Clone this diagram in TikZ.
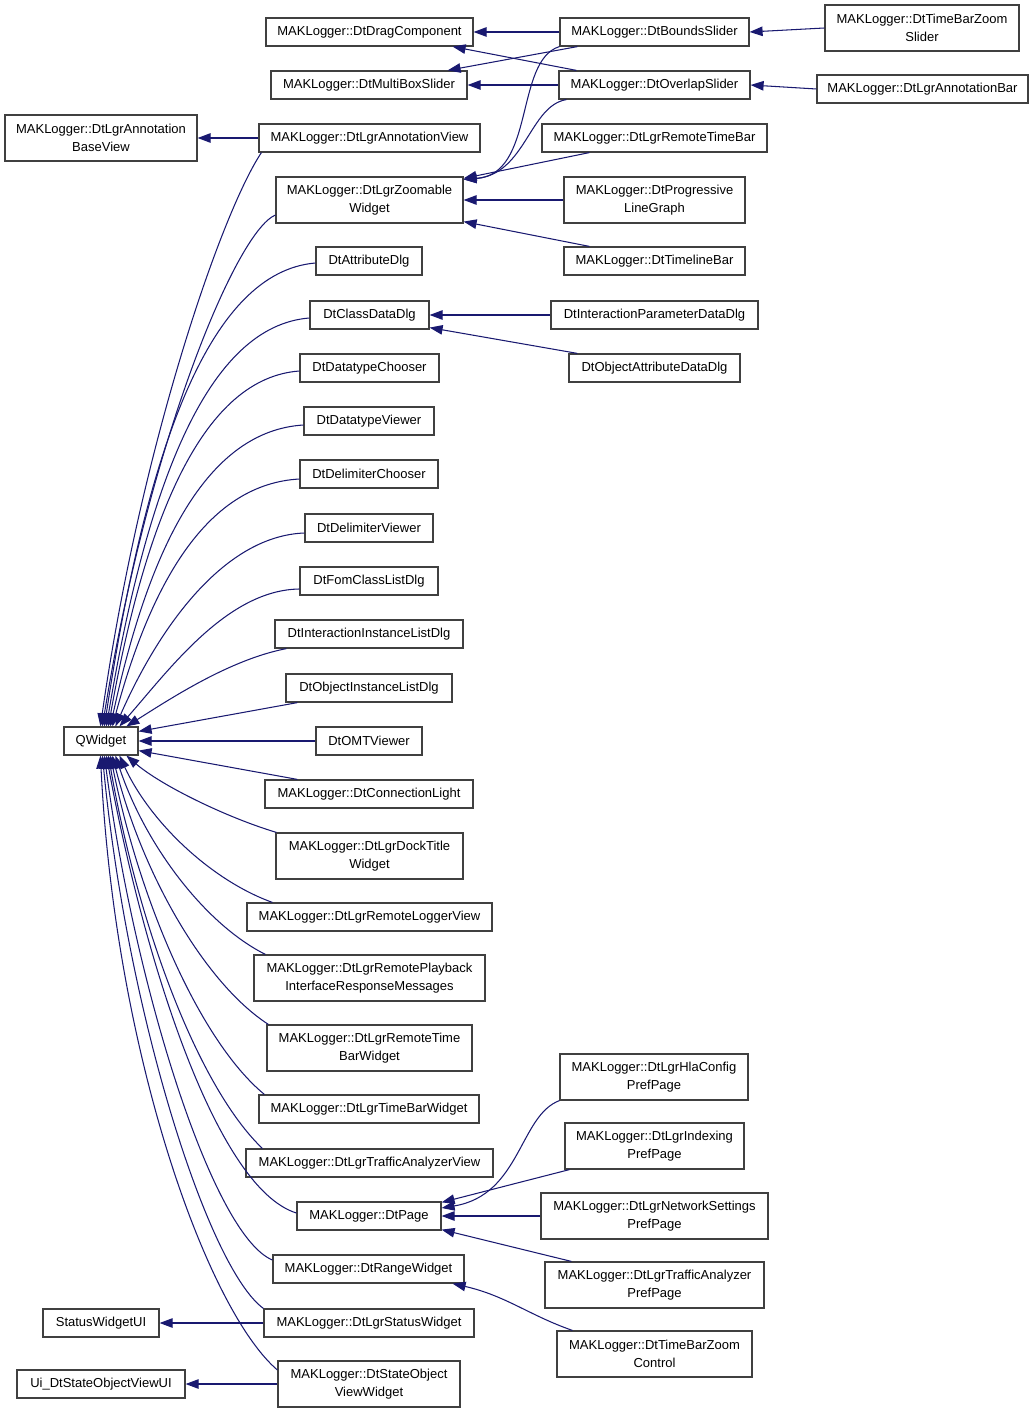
\documentclass[tikz,border=0pt]{standalone}
\usepackage{fontspec}
\setmainfont{Liberation Sans}
\usetikzlibrary{arrows.meta,calc}
\definecolor{mblue}{RGB}{25,25,112}
\definecolor{bordergray}{RGB}{64,64,64}
\newcommand\mkbox[6]{\node[box, minimum width=#4pt, minimum height=#5pt] (#1) at (#2,#3) {#6};}
\begin{document}
\begin{tikzpicture}[x=1pt,y=-1pt,
  box/.style={draw=bordergray, line width=1.2pt, fill=white, rectangle, inner sep=0pt, align=center, font=\fontsize{13}{17.5}\selectfont},
  edge/.style={draw=mblue, line width=1.05pt, -{Triangle[length=13pt,width=9.5pt]}}]
\useasboundingbox (0,0) rectangle (1035,1412);
% left column
\mkbox{baseview}{101}{138}{192}{46}{MAKLogger::DtLgrAnnotation\\BaseView}
\mkbox{qw}{101}{741}{74}{28}{QWidget}
\mkbox{statusui}{101}{1323}{116}{28}{StatusWidgetUI}
\mkbox{uistate}{101}{1384}{168}{28}{Ui\_DtStateObjectViewUI}
% middle column
\mkbox{drag}{369.5}{32}{207}{28}{MAKLogger::DtDragComponent}
\mkbox{multi}{369}{85}{196}{28}{MAKLogger::DtMultiBoxSlider}
\mkbox{annview}{369.5}{138}{221}{28}{MAKLogger::DtLgrAnnotationView}
\mkbox{zoom}{369.5}{200}{187}{46}{MAKLogger::DtLgrZoomable\\Widget}
\mkbox{attr}{369}{261}{106}{28}{DtAttributeDlg}
\mkbox{classdata}{369.5}{315}{119}{28}{DtClassDataDlg}
\mkbox{dtchooser}{369.5}{368}{139}{28}{DtDatatypeChooser}
\mkbox{dtviewer}{369}{421}{130}{28}{DtDatatypeViewer}
\mkbox{delchooser}{369}{474}{138}{28}{DtDelimiterChooser}
\mkbox{delviewer}{369}{528}{128}{28}{DtDelimiterViewer}
\mkbox{fom}{369}{581}{138}{28}{DtFomClassListDlg}
\mkbox{intinst}{369}{634}{188}{28}{DtInteractionInstanceListDlg}
\mkbox{objinst}{369}{688}{166}{28}{DtObjectInstanceListDlg}
\mkbox{omt}{369}{741}{106}{28}{DtOMTViewer}
\mkbox{connlight}{369}{794}{208}{28}{MAKLogger::DtConnectionLight}
\mkbox{dock}{369.5}{856}{187}{46}{MAKLogger::DtLgrDockTitle\\Widget}
\mkbox{rlogger}{369.5}{917}{245}{28}{MAKLogger::DtLgrRemoteLoggerView}
\mkbox{rplay}{369.5}{978}{231}{46}{MAKLogger::DtLgrRemotePlayback\\InterfaceResponseMessages}
\mkbox{rtbw}{369.5}{1048}{205}{46}{MAKLogger::DtLgrRemoteTime\\BarWidget}
\mkbox{tbw}{369}{1109}{220}{28}{MAKLogger::DtLgrTimeBarWidget}
\mkbox{tav}{369.5}{1163}{247}{28}{MAKLogger::DtLgrTrafficAnalyzerView}
\mkbox{page}{369}{1216}{144}{28}{MAKLogger::DtPage}
\mkbox{range}{368.5}{1269}{191}{28}{MAKLogger::DtRangeWidget}
\mkbox{status}{369}{1323}{210}{28}{MAKLogger::DtLgrStatusWidget}
\mkbox{stateobj}{369}{1384}{182}{46}{MAKLogger::DtStateObject\\ViewWidget}
% right column
\mkbox{bounds}{654.5}{32}{189}{28}{MAKLogger::DtBoundsSlider}
\mkbox{overlap}{654.5}{85}{191}{28}{MAKLogger::DtOverlapSlider}
\mkbox{rtb}{654.5}{138}{225}{28}{MAKLogger::DtLgrRemoteTimeBar}
\mkbox{plg}{654.5}{200}{181}{46}{MAKLogger::DtProgressive\\LineGraph}
\mkbox{timeline}{654.5}{261}{181}{28}{MAKLogger::DtTimelineBar}
\mkbox{ipdd}{654.5}{315}{207}{28}{DtInteractionParameterDataDlg}
\mkbox{oadd}{654.5}{368}{171}{28}{DtObjectAttributeDataDlg}
\mkbox{hla}{654}{1077}{188}{46}{MAKLogger::DtLgrHlaConfig\\PrefPage}
\mkbox{idx}{654.5}{1146}{179}{46}{MAKLogger::DtLgrIndexing\\PrefPage}
\mkbox{net}{654.5}{1216}{227}{46}{MAKLogger::DtLgrNetworkSettings\\PrefPage}
\mkbox{tapp}{654.5}{1285}{219}{46}{MAKLogger::DtLgrTrafficAnalyzer\\PrefPage}
\mkbox{tbzc}{654.5}{1354}{195}{46}{MAKLogger::DtTimeBarZoom\\Control}
% far right
\mkbox{tbzs}{922}{28}{194}{46}{MAKLogger::DtTimeBarZoom\\Slider}
\mkbox{annbar}{922.5}{89}{211}{28}{MAKLogger::DtLgrAnnotationBar}
% ---- edges, right part
\draw[edge] (tbzs.west) -- (bounds.east);
\draw[edge] (annbar.west) -- (overlap.east);
\draw[edge] (bounds.west) -- (drag.east);
\draw[edge] (overlap.west) -- (multi.east);
\draw[edge] ($(bounds.south west)+(18,0)$) -- ($(multi.north east)+(-20,0)$);
\draw[edge] ($(overlap.north west)+(18,0)$) -- ($(drag.south east)+(-21,0)$);
\draw[edge] (bounds.south west) .. controls +(-45,14) and +(72,-5) .. ($(zoom.north east)+(0,3)$);
\draw[edge] ($(overlap.south west)+(8,0)$) .. controls +(-37,6) and +(62,-5) .. ($(zoom.north east)+(0,3)$);
\draw[edge] ($(rtb.south west)+(48,0)$) -- ($(zoom.north east)+(0,2)$);
\draw[edge] (plg.west) -- (zoom.east);
\draw[edge] ($(timeline.north west)+(26,0)$) -- ($(zoom.south east)+(0,-2)$);
\draw[edge] (annview.west) -- (baseview.east);
\draw[edge] (ipdd.west) -- (classdata.east);
\draw[edge] ($(oadd.north west)+(9,0)$) -- ($(classdata.south east)+(0,-2)$);
\draw[edge] (hla.south west) .. controls +(-40,15) and +(79,-13) .. ($(page.east)+(0,-8)$);
\draw[edge] ($(idx.south west)+(5,0)$) -- ($(page.north east)+(0,1)$);
\draw[edge] (net.west) -- (page.east);
\draw[edge] ($(tapp.north west)+(27,0)$) -- ($(page.south east)+(0,-1)$);
\draw[edge] ($(tbzc.north west)+(16,0)$) .. controls +(-43,-15) and +(53,12) .. ($(range.south east)+(-12,0)$);
\draw[edge] (status.west) -- (statusui.east);
\draw[edge] (stateobj.west) -- (uistate.east);
% ---- edges into QWidget, upper group
\draw[edge] ($(annview.south west)+(3,0)$) .. controls +(-40,60) and +(40,-280) .. ($(qw.north west)+(37,0)$);
\draw[edge] ($(zoom.west)+(0,15)$) .. controls +(-40,17) and +(45,-280) .. ($(qw.north west)+(39,0)$);
\draw[edge] ($(attr.west)+(0,2)$) .. controls +(-106,9) and +(42,-278) .. ($(qw.north west)+(41,0)$);
\draw[edge] ($(classdata.west)+(0,3)$) .. controls +(-101,8) and +(41,-245) .. ($(qw.north west)+(43,0)$);
\draw[edge] ($(dtchooser.west)+(0,3)$) .. controls +(-95,7) and +(38,-214) .. ($(qw.north west)+(45,0)$);
\draw[edge] ($(dtviewer.west)+(0,4)$) .. controls +(-96,6) and +(39,-181) .. ($(qw.north west)+(47,0)$);
\draw[edge] ($(delchooser.west)+(0,5)$) .. controls +(-90,5) and +(40,-149) .. ($(qw.north west)+(49,0)$);
\draw[edge] ($(delviewer.west)+(0,5)$) .. controls +(-80,3) and +(44,-100) .. ($(qw.north west)+(52,0)$);
\draw[edge] ($(fom.west)+(0,8)$) .. controls +(-72,1) and +(50,-57) .. ($(qw.north west)+(56,0)$);
\draw[edge] ($(intinst.south west)+(12,0)$) .. controls +(-57,11) and +(43,-27) .. ($(qw.north west)+(63,0)$);
\draw[edge] ($(objinst.south west)+(12,0)$) -- ($(qw.north east)+(0,5)$);
\draw[edge] (omt.west) -- (qw.east);
% ---- edges into QWidget, lower group
\draw[edge] ($(connlight.north west)+(33,0)$) -- ($(qw.south east)+(0,-5)$);
\draw[edge] ($(dock.north west)+(1,0)$) .. controls +(-50,-15) and +(35,30) .. ($(qw.south west)+(63,0)$);
\draw[edge] ($(rlogger.north west)+(26,0)$) .. controls +(-61,-22) and +(31,67) .. ($(qw.south west)+(56,0)$);
\draw[edge] ($(rplay.north west)+(12,0)$) .. controls +(-60,-30) and +(30,90) .. ($(qw.south west)+(52,0)$);
\draw[edge] ($(rtbw.north west)+(2,0)$) .. controls +(-62,-40) and +(31,122) .. ($(qw.south west)+(49,0)$);
\draw[edge] ($(tbw.north west)+(6,0)$) .. controls +(-62,-51) and +(31,153) .. ($(qw.south west)+(47,0)$);
\draw[edge] ($(tav.north west)+(17,0)$) .. controls +(-62,-59) and +(31,177) .. ($(qw.south west)+(45,0)$);
\draw[edge] ($(page.west)+(0,-3)$) .. controls +(-80,-25) and +(38,206) .. ($(qw.south west)+(43,0)$);
\draw[edge] ($(range.west)+(0,-9)$) .. controls +(-60,-25) and +(30,230) .. ($(qw.south west)+(41,0)$);
\draw[edge] (status.north west) .. controls +(-55,-40) and +(25,260) .. ($(qw.south west)+(39,0)$);
\draw[edge] ($(stateobj.west)+(0,-14)$) .. controls +(-70,-60) and +(15,300) .. ($(qw.south west)+(37,0)$);
\end{tikzpicture}
\end{document}
